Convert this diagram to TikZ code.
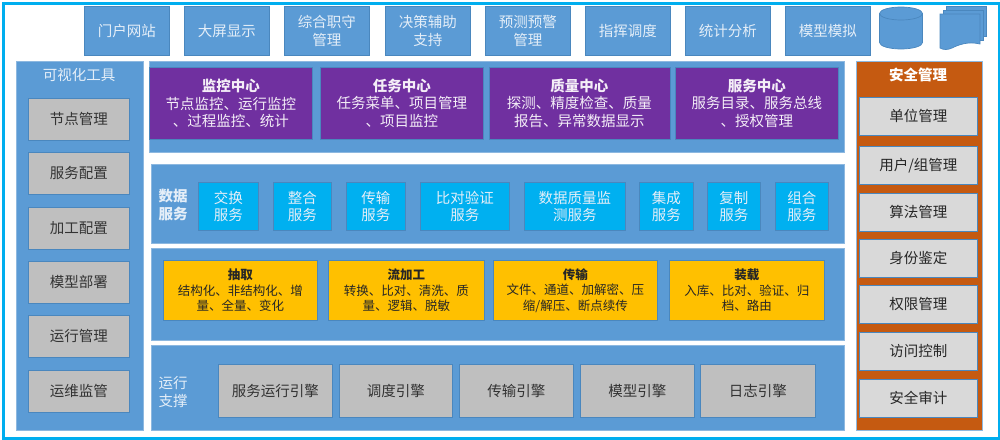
\documentclass[tikz,border=0pt]{standalone}
\usepackage{fontspec}
\setmainfont{Noto Sans CJK SC}
\usetikzlibrary{positioning}
\definecolor{marco}{HTML}{00AEEF}
\definecolor{azul}{HTML}{5B9BD5}
\definecolor{borde}{HTML}{4A87BE}
\definecolor{orilla}{HTML}{8DB8E0}
\definecolor{claro}{HTML}{E4EEF8}
\definecolor{morado}{HTML}{7030A0}
\definecolor{celeste}{HTML}{00B0F0}
\definecolor{amarillo}{HTML}{FFC000}
\definecolor{gris}{HTML}{BFBFBF}
\definecolor{grisclaro}{HTML}{D9D9D9}
\definecolor{naranja}{HTML}{C55A11}
\tikzset{
  caja/.style={anchor=north west,inner sep=0pt,align=center,draw=borde,line width=0.7pt,
    font=\fontsize{14.5}{17.5}\selectfont},
  panel/.style={caja,fill=azul,draw=orilla},
  arriba/.style={caja,fill=azul,text=claro,minimum width=85pt,minimum height=49pt},
  lateral/.style={caja,fill=gris,text=black!80,minimum width=101pt,minimum height=42pt},
  centro/.style={caja,fill=morado,text=white!92!morado,minimum height=72pt},
  servicio/.style={caja,fill=celeste,text=claro,minimum height=48pt},
  proceso/.style={caja,fill=amarillo,text=black!85,minimum height=60pt,font=\fontsize{12.5}{15.5}\selectfont},
  motor/.style={caja,fill=gris,text=black!80,minimum height=53pt},
  seguro/.style={caja,fill=grisclaro,text=black!85,minimum width=118pt,minimum height=38pt},
  rotulo/.style={anchor=center,inner sep=0pt,align=center,text=claro,font=\fontsize{14.5}{18}\selectfont},
  icono/.style={fill=azul,draw=borde,line width=0.7pt}
}
\begin{document}
\begin{tikzpicture}[x=1pt,y=-1pt]
\useasboundingbox (0,0) rectangle (1000,439);
\node[anchor=north west,inner sep=0pt,draw=marco,line width=3.5pt,minimum width=996.5pt,minimum height=435.5pt] (marco) at (1.75,1.75) {};
% fila superior
\node[arriba] (portal) at (84,6) {门户网站};
\node[arriba] (pantalla) at (184,6) {大屏显示};
\node[arriba] (zhishou) at (284,6) {综合职守\\管理};
\node[arriba] (decision) at (385,6) {决策辅助\\支持};
\node[arriba] (alerta) at (485,6) {预测预警\\管理};
\node[arriba] (mando) at (585,6) {指挥调度};
\node[arriba] (estadistica) at (685,6) {统计分析};
\node[arriba] (simulacion) at (785,6) {模型模拟};
\draw[icono] (879.5,13.5) -- (879.5,42.5) arc[start angle=180,end angle=360,x radius=21.5pt,y radius=6.5pt]
  -- (922.5,13.5) arc[start angle=0,end angle=180,x radius=21.5pt,y radius=6.5pt] -- cycle;
\draw[icono] (879.5,13.5) arc[start angle=180,end angle=360,x radius=21.5pt,y radius=6.5pt];
\draw[icono] (946,6) rectangle (986,36);
\draw[icono] (943,10) rectangle (983,40);
\draw[icono] (940,14) -- (980,14) -- (980,44)
  .. controls (968,41) and (958,45) .. (952,48) .. controls (948,50) and (943,50) .. (940,48) -- cycle;
% columna izquierda
\node[panel,minimum width=127pt,minimum height=369pt] (visual) at (16,61) {};
\node[rotulo] (visualt) at (79,75) {可视化工具};
\node[lateral] (nodos) at (28,98) {节点管理};
\node[lateral] (config) at (28,152) {服务配置};
\node[lateral] (proceso) at (28,206.5) {加工配置};
\node[lateral] (despliegue) at (28,261) {模型部署};
\node[lateral] (ejecucion) at (28,315) {运行管理};
\node[lateral] (vigilancia) at (28,369.5) {运维监管};
% centros
\node[panel,minimum width=695pt,minimum height=91pt] (capa1) at (149,61) {};
\node[centro,minimum width=163pt] (monitor) at (149,67) {\textbf{监控中心}\\节点监控、运行监控\\、过程监控、统计};
\node[centro,minimum width=163pt] (tarea) at (320,67) {\textbf{任务中心}\\任务菜单、项目管理\\、项目监控};
\node[centro,minimum width=181pt] (calidad) at (488.5,67) {\textbf{质量中心}\\探测、精度检查、质量\\报告、异常数据显示};
\node[centro,minimum width=163pt] (atencion) at (675,67) {\textbf{服务中心}\\服务目录、服务总线\\、授权管理};
% servicios de datos
\node[panel,minimum width=693pt,minimum height=79pt] (capa2) at (151,164) {};
\node[rotulo] (capa2t) at (173,205) {\textbf{数据}\\\textbf{服务}};
\node[servicio,minimum width=60pt] (cambio) at (198,182) {交换\\服务};
\node[servicio,minimum width=58pt] (integra) at (273,182) {整合\\服务};
\node[servicio,minimum width=59pt] (envio) at (346,182) {传输\\服务};
\node[servicio,minimum width=89pt] (cotejo) at (420,182) {比对验证\\服务};
\node[servicio,minimum width=101pt] (vigila) at (524,182) {数据质量监\\测服务};
\node[servicio,minimum width=54pt] (junta) at (639,182) {集成\\服务};
\node[servicio,minimum width=53pt] (copia) at (707,182) {复制\\服务};
\node[servicio,minimum width=53pt] (combina) at (775,182) {组合\\服务};
% procesos
\node[panel,minimum width=693pt,minimum height=92pt] (capa3) at (151,248) {};
\node[proceso,minimum width=154pt] (extrae) at (163,260) {\textbf{抽取}\\结构化、非结构化、增\\量、全量、变化};
\node[proceso,minimum width=156pt] (flujo) at (328,260) {\textbf{流加工}\\转换、比对、清洗、质\\量、逻辑、脱敏};
\node[proceso,minimum width=164pt] (transmite) at (493,260) {\textbf{传输}\\文件、通道、加解密、压\\缩/解压、断点续传};
\node[proceso,minimum width=155pt] (carga) at (669,260) {\textbf{装载}\\入库、比对、验证、归\\档、路由};
% motores
\node[panel,minimum width=693pt,minimum height=85pt] (capa4) at (151,345) {};
\node[rotulo] (capa4t) at (173,392) {运行\\支撑};
\node[motor,minimum width=114pt] (motorserv) at (218,364) {服务运行引擎};
\node[motor,minimum width=113pt] (motorplan) at (339,364) {调度引擎};
\node[motor,minimum width=114pt] (motorenvio) at (459,364) {传输引擎};
\node[motor,minimum width=114pt] (motormodelo) at (580,364) {模型引擎};
\node[motor,minimum width=115pt] (motorlog) at (700,364) {日志引擎};
% columna derecha
\node[panel,fill=naranja,minimum width=126pt,minimum height=369pt] (seguridad) at (856,61) {};
\node[rotulo,text=white] (seguridadt) at (918,75) {\textbf{安全管理}};
\node[seguro] (unidad) at (859,97) {单位管理};
\node[seguro] (usuario) at (859,146) {用户/组管理};
\node[seguro] (algoritmo) at (859,193) {算法管理};
\node[seguro] (identidad) at (859,239) {身份鉴定};
\node[seguro] (permiso) at (859,285) {权限管理};
\node[seguro] (acceso) at (859,332) {访问控制};
\node[seguro] (auditoria) at (859,379) {安全审计};
\end{tikzpicture}
\end{document}
